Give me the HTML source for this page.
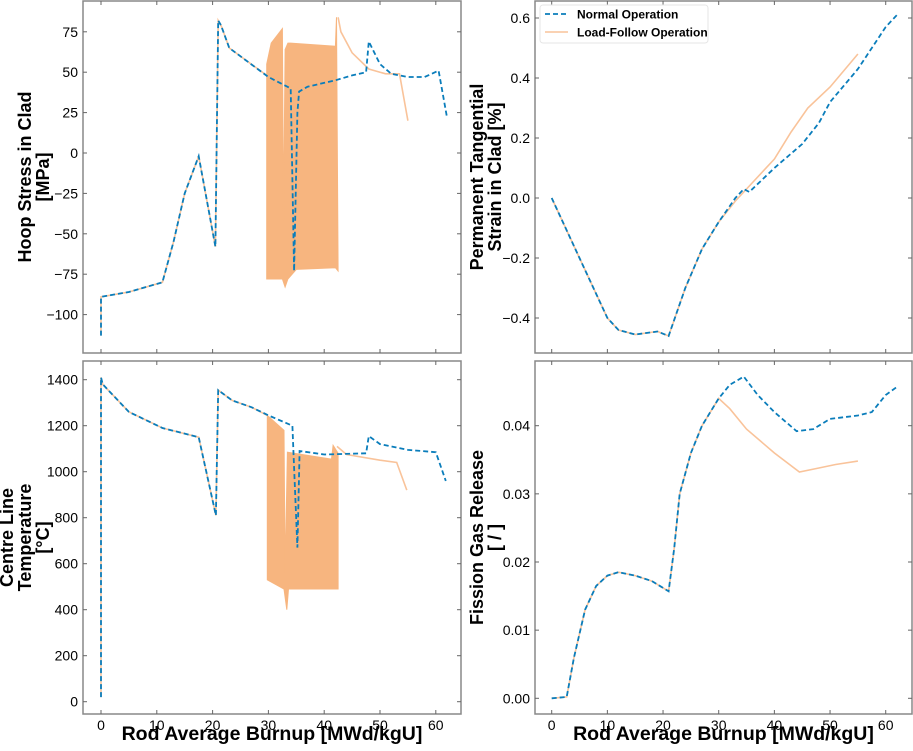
<!DOCTYPE html>
<html><head><meta charset="utf-8"><style>
body{margin:0;background:#fff;}
svg text{font-family:"Liberation Sans",sans-serif;}
</style></head><body>
<svg id="c" width="913" height="746" xmlns="http://www.w3.org/2000/svg"></svg>
<script>
const xTicks=[0,10,20,30,40,50,60];
const hoopTicks=[-100,-75,-50,-25,0,25,50,75];
const strainTicks=[-0.4,-0.2,0.0,0.2,0.4,0.6];
const tempTicks=[0,200,400,600,800,1000,1200,1400];
const fgrTicks=[0.00,0.01,0.02,0.03,0.04];
const hoopNX=[0,0,5,11,13,15,17.5,20.5,21,21.5,23,30,34,34.6,35.2,35.5,37,42,45,47.5,48,50,52,55,58,60.5,62];
const hoopNY=[-113,-89,-86,-80,-55,-25,-2,-58,82,79,65,47,40,-73,25,38,41,45,48,50,69,55,49,47,47,51,22];
const hoopLX=[0,0,5,11,13,15,17.5,20.5,21,21.5,23,29.7];
const hoopLY=[-113,-89,-86,-80,-55,-25,-2,-58,82,79,65,48];
const hoopL2X=[42.5,43,45,48,51,53.5,55];
const hoopL2Y=[84,75,62,52,49,49,20];
const hoopBandUX=[29.7,30.5,32.5,32.7,33.0,33.5,34,42,42.2,42.5];
const hoopBandUY=[55,68,77,-42,64,68,68,66,84,-73];
const hoopBandLX=[29.7,32.5,33.0,33.5,35,42,42.5];
const hoopBandLY=[-78,-78,-83,-78,-72,-71,-73];
const strNX=[0,5,10,12,15,19,21,24,27,30,33,34.5,35.5,40,45,48,50,55,60,62];
const strNY=[0,-0.2,-0.4,-0.44,-0.455,-0.445,-0.46,-0.3,-0.17,-0.08,0,0.03,0.02,0.1,0.18,0.25,0.32,0.43,0.57,0.61];
const strLX=[0,5,10,12,15,19,21,24,27,30,33,36,40,43,46,50,55];
const strLY=[0,-0.2,-0.4,-0.44,-0.455,-0.445,-0.46,-0.3,-0.17,-0.08,-0.01,0.05,0.13,0.22,0.3,0.37,0.48];
const tmpNX=[0,0,0.3,5,11,17.5,20.6,21,23.5,27,30,34.3,34.5,35.2,35.6,40,47.5,48,50,55,60,61.8];
const tmpNY=[20,1410,1380,1260,1190,1150,810,1355,1310,1280,1245,1200,1080,670,1090,1075,1080,1155,1120,1095,1085,960];
const tmpLX=[0,0,0.3,5,11,17.5,20.6,21,23.5,27,29.8];
const tmpLY=[20,1410,1380,1260,1190,1150,810,1355,1310,1280,1245];
const tmpL2X=[42.3,44,50,53,54.8];
const tmpL2Y=[1110,1075,1050,1040,920];
const tmpBandUX=[29.8,32.8,33.0,33.4,41.3,41.6,42.5];
const tmpBandUY=[1245,1180,560,1085,1055,1115,1080];
const tmpBandLX=[29.8,32.8,33.3,33.6,42.5];
const tmpBandLY=[530,490,400,490,490];
const fgrNX=[0,2.7,4,6,8,10,12,15,18,21,22,23,25,27,30,32,34.5,37,40,44,47,50,55,57.5,60,62];
const fgrNY=[0,0.0002,0.006,0.013,0.0165,0.018,0.0185,0.018,0.0172,0.0157,0.022,0.03,0.036,0.04,0.044,0.046,0.0472,0.0445,0.042,0.0392,0.0395,0.041,0.0415,0.042,0.0445,0.0457];
const fgrLX=[0,2.7,4,6,8,10,12,15,18,21,22,23,25,27,30,32,35,40,44.5,48,51,55];
const fgrLY=[0,0.0002,0.006,0.013,0.0165,0.018,0.0185,0.018,0.0172,0.0157,0.022,0.03,0.036,0.04,0.044,0.0425,0.0395,0.036,0.0332,0.0338,0.0343,0.0348];

const svg=document.getElementById('c');const NS='http://www.w3.org/2000/svg';
function mk(t,a,p){const e=document.createElementNS(NS,t);for(const k in a)e.setAttribute(k,a[k]);(p||svg).appendChild(e);return e;}
function panel(name,box,x0,xs,y0,ys,yt,fmt,label,xlabel){
 const g=mk('g',{});
 
 
 const X=v=>x0+v*xs, Y=v=>y0-v*ys;
 const r=mk('rect',{x:box[0],y:box[1],width:box[2]-box[0],height:box[3]-box[1],fill:'none',stroke:'#888','stroke-width':1.5},g);
 
 
 xTicks.forEach(t=>{const x=X(t);mk('line',{x1:x,x2:x,y1:box[3],y2:box[3]-4,stroke:'#666'},g);mk('line',{x1:x,x2:x,y1:box[1],y2:box[1]+4,stroke:'#666'},g);
  if(xlabel){const tx=mk('text',{x:x,y:box[3]+16,'text-anchor':'middle','font-size':14},g);tx.textContent=t;
  
  }});
 yt.forEach(t=>{const y=Y(t);mk('line',{x1:box[0],x2:box[0]+4,y1:y,y2:y,stroke:'#666'},g);mk('line',{x1:box[2],x2:box[2]-4,y1:y,y2:y,stroke:'#666'},g);
  const tx=mk('text',{x:box[0]-5,y:y+5,'text-anchor':'end','font-size':14},g);tx.textContent=fmt(t);
  
  });
 const n=label.length, lastC=box[0]-40, cy=(box[1]+box[3])/2;
 const bx=lastC-(n-1)*18+6;
 const lt=mk('text',{transform:`translate(${bx},${cy}) rotate(-90)`,'text-anchor':'middle','font-size':18,'font-weight':'bold'},g);
 
 
 label.forEach((s,i)=>{const ts=mk('tspan',{x:0,dy:i?18:0},lt);ts.textContent=s;});
 if(xlabel){const t=mk('text',{x:(box[0]+box[2])/2,y:740,'text-anchor':'middle','font-size':19.5,'font-weight':'bold'},g);t.textContent='Rod Average Burnup [MWd/kgU]';
 
 }
 return {g,X,Y};
}
function line(p,xs,ys,o,name){const d=xs.map((x,i)=>(i?'L':'M')+p.X(x).toFixed(1)+','+p.Y(ys[i]).toFixed(1)).join('');
 const e=mk('path',Object.assign({d:d,fill:'none'},o),p.g);
 
 }
function band(p,ux,uy,lx,ly){let d=ux.map((x,i)=>(i?'L':'M')+p.X(x).toFixed(1)+','+p.Y(uy[i]).toFixed(1)).join('');
 for(let i=lx.length-1;i>=0;i--)d+='L'+p.X(lx[i]).toFixed(1)+','+p.Y(ly[i]).toFixed(1);
 const e=mk('path',{d:d+'Z',fill:'#f7b57f',stroke:'#f7b57f','stroke-width':1},p.g);
 
 }
const LF={stroke:'#f9c39a','stroke-width':1.6};
const NO={stroke:'#0a7dbb','stroke-width':1.8,'stroke-dasharray':'5,3'};

const p1=panel('hoop-stress-panel',[83,1,461,353],101,5.58,153,40.4/25,hoopTicks,v=>v<0?'\u2212'+(-v):v,['Hoop Stress in Clad','[MPa]'],false);
band(p1,hoopBandUX,hoopBandUY,hoopBandLX,hoopBandLY);
line(p1,hoopLX,hoopLY,LF,'load-follow-line');line(p1,hoopL2X,hoopL2Y,LF,'load-follow-line-tail');line(p1,hoopNX,hoopNY,NO,'normal-operation-line');

const p2=panel('clad-strain-panel',[535,1,912,353],551.7,5.567,198,300,strainTicks,v=>v.toFixed(1).replace('-','\u2212'),['Permanent Tangential','Strain in Clad [%]'],false);
line(p2,strLX,strLY,LF,'load-follow-line');line(p2,strNX,strNY,NO,'normal-operation-line');

const p3=panel('centre-line-temperature-panel',[83,361,461,714],101,5.58,701.7,46/200,tempTicks,v=>v,['Centre Line','Temperature','[\u00B0C]'],true);
band(p3,tmpBandUX,tmpBandUY,tmpBandLX,tmpBandLY);
line(p3,tmpLX,tmpLY,LF,'load-follow-line');line(p3,tmpL2X,tmpL2Y,LF,'load-follow-line-tail');line(p3,tmpNX,tmpNY,NO,'normal-operation-line');

const p4=panel('fission-gas-release-panel',[535,361,912,714],551.7,5.567,698.3,6815,fgrTicks,v=>v.toFixed(2),['Fission Gas Release','[ / ]'],true);
line(p4,fgrLX,fgrLY,LF,'load-follow-line');line(p4,fgrNX,fgrNY,NO,'normal-operation-line');

const lg=mk('g',{});


mk('rect',{x:540,y:5,width:168,height:38,rx:3,fill:'#fff',stroke:'#e6e6e6'},lg);
mk('line',Object.assign({x1:545,x2:568,y1:14,y2:14},NO),lg);
mk('line',Object.assign({x1:545,x2:568,y1:32,y2:32},LF),lg);
const t1=mk('text',{x:577,y:18.5,'font-size':12,'font-weight':'bold'},lg);t1.textContent='Normal Operation';


const t2=mk('text',{x:577,y:36.5,'font-size':12,'font-weight':'bold'},lg);t2.textContent='Load-Follow Operation';


</script>
</body></html>
